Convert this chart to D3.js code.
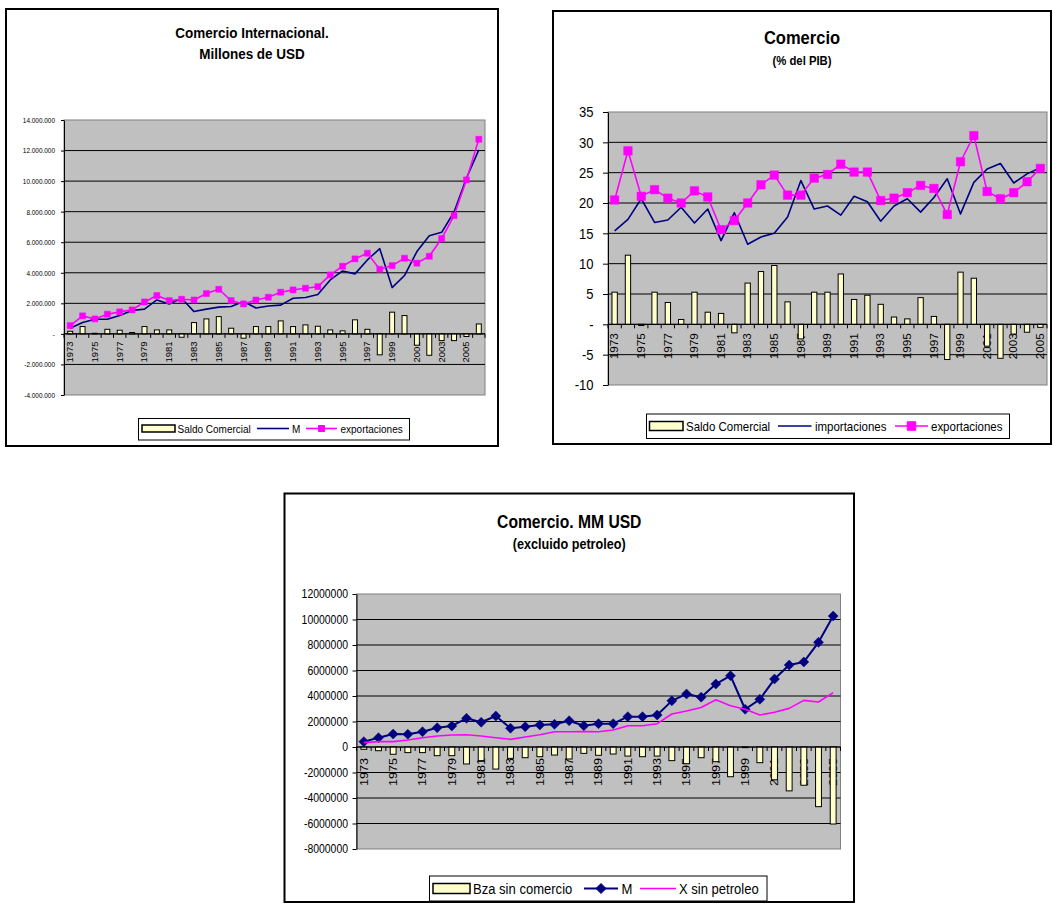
<!DOCTYPE html>
<html><head><meta charset="utf-8">
<script src="https://cdn.jsdelivr.net/npm/d3@7"></script>
<style>
body{margin:0;background:#fff}
svg{display:block}
text{font-family:"Liberation Sans",Arial,sans-serif}
</style>
</head><body>
<svg id="c" width="1053" height="904"></svg>
<script>
// ---------------- DATA ----------------
const years1 = ["1973","1974","1975","1976","1977","1978","1979","1980","1981","1982","1983","1984","1985","1986","1987","1988","1989","1990","1991","1992","1993","1994","1995","1996","1997","1998","1999","2000","2001","2002","2003","2004","2005","2006"];
const years2 = ["1973","1974","1975","1976","1977","1978","1979","1980","1981","1982","1983","1984","1985","1986","1987","1988","1989","1990","1991","1992","1993","1994","1995","1996","1997","1998","1999","2000","2001","2002","2003","2004","2005"];
const years3 = years2;

// Chart 1: Comercio Internacional. Millones de USD
const c1Saldo = [170000,480000,40000,300000,240000,90000,480000,260000,260000,-220000,740000,980000,1130000,370000,-280000,480000,480000,850000,480000,590000,500000,260000,200000,920000,300000,-1370000,1420000,1200000,-740000,-1400000,-440000,-440000,-170000,650000];
const c1M = [370000,740000,960000,960000,1200000,1530000,1620000,2220000,1960000,2330000,1460000,1620000,1750000,1790000,2120000,1700000,1830000,1880000,2330000,2380000,2580000,3530000,4120000,3930000,4840000,5580000,3030000,3820000,5390000,6430000,6650000,7980000,10190000,12040000];
const c1X = [540000,1180000,980000,1290000,1440000,1570000,2090000,2510000,2180000,2270000,2220000,2640000,2920000,2180000,1960000,2220000,2400000,2730000,2880000,2990000,3090000,3860000,4430000,4910000,5280000,4230000,4470000,4950000,4630000,5080000,6240000,7740000,10080000,12740000];
const c1Ticks = [-4000000,-2000000,0,2000000,4000000,6000000,8000000,10000000,12000000,14000000];

// Chart 2: Comercio (% del PIB)
const c2Saldo = [5.3,11.4,-0.2,5.3,3.6,0.8,5.3,2.0,1.8,-1.4,6.8,8.7,9.7,3.7,-2.4,5.3,5.3,8.3,4.1,4.8,3.3,1.2,0.9,4.4,1.3,-5.8,8.6,7.6,-3.6,-5.6,-1.6,-1.3,-0.5];
const c2Imp = [15.4,17.3,20.7,16.8,17.2,19.3,16.7,19.0,13.8,18.4,13.2,14.4,15.0,17.7,23.7,19.0,19.5,18.0,21.1,20.2,17.0,19.5,20.7,18.5,20.9,24.0,18.2,23.4,25.6,26.5,23.3,24.8,25.8];
const c2Exp = [20.5,28.6,21.1,22.2,20.8,20.0,22.0,21.0,15.6,17.1,20.0,23.0,24.6,21.3,21.3,24.1,24.7,26.4,25.1,25.1,20.4,20.8,21.7,22.9,22.4,18.1,26.8,31.1,21.9,20.7,21.7,23.5,25.7];
const c2Ticks = [-10,-5,0,5,10,15,20,25,30,35];

// Chart 3: Comercio. MM USD (excluido petroleo)
const c3Bza = [-180000,-290000,-570000,-440000,-440000,-680000,-680000,-1330000,-1070000,-1730000,-890000,-840000,-760000,-630000,-940000,-500000,-650000,-550000,-710000,-760000,-710000,-1070000,-1310000,-840000,-1150000,-2330000,-50000,-1230000,-2570000,-3440000,-3000000,-4680000,-6040000];
const c3M = [420000,730000,1020000,1000000,1200000,1510000,1650000,2250000,1940000,2430000,1470000,1590000,1730000,1780000,2060000,1670000,1830000,1830000,2380000,2380000,2510000,3620000,4160000,3910000,4940000,5590000,2960000,3740000,5330000,6430000,6670000,8210000,10270000];
const c3X = [340000,420000,420000,550000,730000,860000,940000,960000,860000,730000,600000,780000,960000,1200000,1200000,1220000,1200000,1330000,1670000,1670000,1830000,2590000,2820000,3100000,3710000,3240000,2960000,2510000,2720000,3030000,3660000,3530000,4260000];
const c3Ticks = [-8000000,-6000000,-4000000,-2000000,0,2000000,4000000,6000000,8000000,10000000,12000000];

// ---------------- DRAWING ----------------
const FONT = '"Liberation Sans", Arial, sans-serif';
const SX = 0.87;
const NAVY = "#000080", MAG = "#FF00FF", BARF = "#FFFFCC", PLOTBG = "#C0C0C0";
const svg = d3.select("#c");

const esLoc = d3.formatLocale({decimal: ",", thousands: ".", grouping: [3], currency: ["", ""], minus: "-"});
const plainLoc = d3.formatLocale({decimal: ".", thousands: "", grouping: [3], currency: ["", ""], minus: "-"});
const fmt1 = v => v === 0 ? "-" : esLoc.format(",d")(v);
const fmt2 = v => v === 0 ? "-" : plainLoc.format("d")(v);
const fmt3 = v => plainLoc.format("d")(v);

function hText(g, x, y, s, size, anchor, weight) {
  return g.append("text")
    .attr("transform", `translate(${x},${y}) scale(${SX},1)`)
    .attr("font-size", size).attr("font-family", FONT)
    .attr("font-weight", weight || "normal")
    .attr("text-anchor", anchor || "start")
    .attr("fill", "#000").text(s);
}

function markerPath(type, s) {
  if (type === "square") return `M${-s/2},${-s/2}h${s}v${s}h${-s}Z`;
  if (type === "diamond") return `M0,${-s/2}L${s/2},0L0,${s/2}L${-s/2},0Z`;
  return "";
}

function drawChart(cfg) {
  const g = svg.append("g");
  const [bx0, by0, bx1, by1] = cfg.box;
  g.append("rect").attr("x", bx0).attr("y", by0).attr("width", bx1 - bx0).attr("height", by1 - by0)
    .attr("fill", "#fff").attr("stroke", "#000").attr("stroke-width", 2);
  cfg.titles.forEach(t => hText(g, (bx0 + bx1) / 2, t.y, t.text, t.size, "middle", "bold"));

  const [px0, py0, px1, py1] = cfg.plot;
  const x = d3.scaleBand().domain(cfg.years).range([px0, px1]).padding(0);
  const y = d3.scaleLinear().domain([cfg.ticks[0], cfg.ticks[cfg.ticks.length - 1]]).range([py1, py0]);
  const cx = i => x(cfg.years[i]) + x.bandwidth() / 2;

  g.append("rect").attr("x", px0).attr("y", py0).attr("width", px1 - px0).attr("height", py1 - py0)
    .attr("fill", PLOTBG).attr("stroke", "#808080").attr("stroke-width", 1);

  // gridlines
  g.append("g").selectAll("line")
    .data(cfg.ticks.slice(1, -1)).join("line")
    .attr("x1", px0).attr("x2", px1).attr("y1", d => y(d)).attr("y2", d => y(d))
    .attr("stroke", "#000").attr("stroke-width", 1);

  // y axis
  const ya = g.append("g").attr("transform", `translate(${px0},0)`)
    .call(d3.axisLeft(y).tickValues(cfg.ticks).tickFormat(cfg.fmt)
      .tickSize(cfg.yTickSize).tickSizeOuter(0).tickPadding(cfg.yPad));
  ya.attr("font-family", FONT);
  ya.select(".domain").attr("stroke", "#000");
  ya.selectAll(".tick line").attr("stroke", "#000");
  ya.selectAll("text").attr("font-size", cfg.yFont).attr("fill", "#000").each(function () {
    const t = d3.select(this);
    t.attr("x", (+t.attr("x")) / SX).attr("transform", `scale(${SX},1)`);
  });

  const y0 = y(0);
  // x labels (rotated)
  const xa = g.append("g").attr("transform", `translate(0,${y0})`)
    .call(d3.axisBottom(x).tickValues(cfg.years.filter((d, i) => i % 2 === 0)).tickSize(0).tickSizeOuter(0));
  xa.attr("font-family", FONT);
  xa.select(".domain").remove();
  xa.selectAll("text").attr("font-size", cfg.xFont).attr("fill", "#000")
    .attr("text-anchor", "end").attr("x", 0).attr("y", 0).attr("dy", "0.36em")
    .attr("transform", `translate(0,${cfg.xOff}) rotate(-90) scale(1,${SX})`);

  // bars
  const bw = x.bandwidth() / 2.5;
  g.append("g").selectAll("rect").data(cfg.bars).join("rect")
    .attr("x", (d, i) => cx(i) - bw / 2)
    .attr("y", d => y(Math.max(0, d)))
    .attr("width", bw)
    .attr("height", d => Math.abs(y(d) - y0))
    .attr("fill", BARF).attr("stroke", "#000").attr("stroke-width", 1);

  // category axis line and boundary ticks
  g.append("line").attr("x1", px0).attr("x2", px1).attr("y1", y0).attr("y2", y0)
    .attr("stroke", "#000").attr("stroke-width", 1);
  const bounds = x.domain().map(d => x(d)).concat([px1]);
  g.append("g").selectAll("line").data(bounds).join("line")
    .attr("x1", d => d).attr("x2", d => d).attr("y1", y0).attr("y2", y0 + 4)
    .attr("stroke", "#000").attr("stroke-width", 1);

  // lines
  const line = d3.line().x((d, i) => cx(i)).y(d => y(d));
  cfg.lines.forEach(L => {
    g.append("path").attr("d", line(L.data)).attr("fill", "none")
      .attr("stroke", L.color).attr("stroke-width", L.width).attr("stroke-linejoin", "round");
    if (L.marker) {
      g.append("g").selectAll("path").data(L.data).join("path")
        .attr("transform", (d, i) => `translate(${cx(i)},${y(d)})`)
        .attr("d", markerPath(L.marker, L.msize))
        .attr("fill", L.color).attr("stroke", L.color).attr("stroke-width", 0.5);
    }
  });

  // legend
  const lg = cfg.legend;
  const [lx0, ly0, lx1, ly1] = lg.box;
  g.append("rect").attr("x", lx0).attr("y", ly0).attr("width", lx1 - lx0).attr("height", ly1 - ly0)
    .attr("fill", "#fff").attr("stroke", "#000").attr("stroke-width", 1);
  lg.items.forEach(it => {
    if (it.type === "bar") {
      g.append("rect").attr("x", it.x0).attr("y", lg.ym - it.h / 2).attr("width", it.x1 - it.x0).attr("height", it.h)
        .attr("fill", BARF).attr("stroke", "#000").attr("stroke-width", 1.5);
    } else {
      g.append("line").attr("x1", it.x0).attr("x2", it.x1).attr("y1", lg.ym).attr("y2", lg.ym)
        .attr("stroke", it.color).attr("stroke-width", it.width);
      if (it.marker) {
        g.append("path").attr("transform", `translate(${(it.x0 + it.x1) / 2},${lg.ym})`)
          .attr("d", markerPath(it.marker, it.msize)).attr("fill", it.color).attr("stroke", it.color);
      }
    }
    hText(g, it.tx, lg.baseline, it.label, lg.font, "start", "normal");
  });
}

// Chart 1
drawChart({
  box: [6, 9, 498, 446],
  titles: [{text: "Comercio Internacional.", y: 38, size: 15.5}, {text: "Millones de USD", y: 58.5, size: 15.5}],
  plot: [64, 120, 485, 395],
  years: years1, ticks: c1Ticks, fmt: fmt1,
  yTickSize: 3, yPad: 6, yFont: 7.4,
  xFont: 9.5, xOff: 7.5,
  bars: c1Saldo,
  lines: [
    {data: c1M, color: NAVY, width: 1.6},
    {data: c1X, color: MAG, width: 1.6, marker: "square", msize: 6}
  ],
  legend: {
    box: [138.5, 418.5, 409.5, 440], ym: 428.5, baseline: 432.5, font: 11.5,
    items: [
      {type: "bar", x0: 142, x1: 175, h: 7, label: "Saldo Comercial", tx: 177.5},
      {type: "line", x0: 257, x1: 289, color: NAVY, width: 1.6, label: "M", tx: 292},
      {type: "line", x0: 306, x1: 337, color: MAG, width: 1.6, marker: "square", msize: 6, label: "exportaciones", tx: 340.5}
    ]
  }
});

// Chart 2
drawChart({
  box: [553, 11, 1051, 444],
  titles: [{text: "Comercio", y: 44, size: 19}, {text: "(% del PIB)", y: 64.5, size: 13}],
  plot: [608, 112, 1047, 385],
  years: years2, ticks: c2Ticks, fmt: fmt2,
  yTickSize: 5, yPad: 9.5, yFont: 15,
  xFont: 11.7, xOff: 9,
  bars: c2Saldo,
  lines: [
    {data: c2Imp, color: NAVY, width: 1.6},
    {data: c2Exp, color: MAG, width: 1.6, marker: "square", msize: 8.5}
  ],
  legend: {
    box: [646.5, 414, 1009.5, 438.5], ym: 426, baseline: 430.5, font: 13.2,
    items: [
      {type: "bar", x0: 649.5, x1: 683, h: 9, label: "Saldo Comercial", tx: 686},
      {type: "line", x0: 778, x1: 811.5, color: NAVY, width: 1.6, label: "importaciones", tx: 815},
      {type: "line", x0: 895, x1: 928, color: MAG, width: 1.6, marker: "square", msize: 8.5, label: "exportaciones", tx: 931}
    ]
  }
});

// Chart 3
drawChart({
  box: [284.5, 493.5, 854, 902],
  titles: [{text: "Comercio. MM USD", y: 527.5, size: 18}, {text: "(excluido petroleo)", y: 549, size: 14.5}],
  plot: [356.5, 594, 840.5, 849],
  years: years3, ticks: c3Ticks, fmt: fmt3,
  yTickSize: 4, yPad: 4.5, yFont: 12,
  xFont: 12.6, xOff: 11,
  bars: c3Bza,
  lines: [
    {data: c3M, color: NAVY, width: 2, marker: "diamond", msize: 10},
    {data: c3X, color: MAG, width: 1.6}
  ],
  legend: {
    box: [429.5, 876, 767, 901], ym: 888.5, baseline: 893.5, font: 15,
    items: [
      {type: "bar", x0: 433, x1: 470, h: 10, label: "Bza sin comercio", tx: 473},
      {type: "line", x0: 584, x1: 618, color: NAVY, width: 2, marker: "diamond", msize: 10, label: "M", tx: 621.5},
      {type: "line", x0: 640, x1: 676, color: MAG, width: 1.6, label: "X sin petroleo", tx: 679}
    ]
  }
});
</script>
</body></html>
